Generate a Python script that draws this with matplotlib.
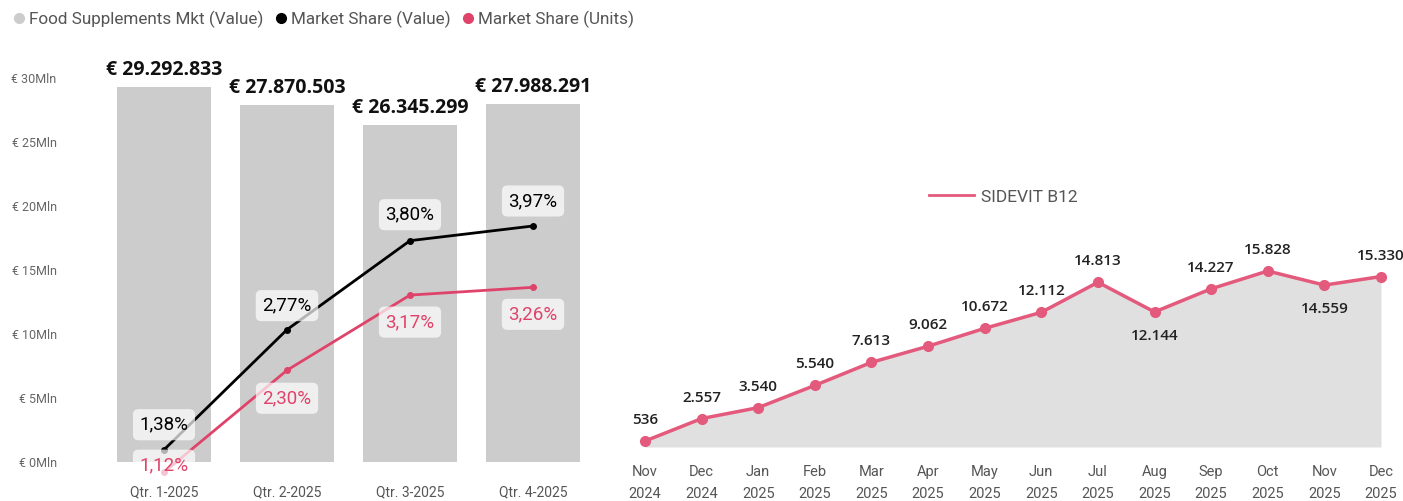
import matplotlib.pyplot as plt
from matplotlib.lines import Line2D

plt.rcParams['font.family'] = ['Roboto', 'DejaVu Sans']

# left chart data
quarters = ['Qtr. 1-2025', 'Qtr. 2-2025', 'Qtr. 3-2025', 'Qtr. 4-2025']
mkt_value = [29292833, 27870503, 26345299, 27988291]
share_value = [1.38, 2.77, 3.80, 3.97]
share_units = [1.12, 2.30, 3.17, 3.26]

# right chart data
months = ['Nov\n2024', 'Dec\n2024', 'Jan\n2025', 'Feb\n2025', 'Mar\n2025', 'Apr\n2025', 'May\n2025',
          'Jun\n2025', 'Jul\n2025', 'Aug\n2025', 'Sep\n2025', 'Oct\n2025', 'Nov\n2025', 'Dec\n2025']
sidevit = [536, 2557, 3540, 5540, 7613, 9062, 10672, 12112, 14813, 12144, 14227, 15828, 14559, 15330]

BAR = '#cccccc'
PINK = '#e0436a'
PINK2 = '#e35a7c'

W, H = 1403, 501
fig = plt.figure(figsize=(W / 100, H / 100), dpi=100)

def fx(px):
    return px / W

def fy(py):
    return 1 - py / H

# ---- left: bars + market share lines
ax = fig.add_axes([fx(102.5), fy(462), fx(492), (462 - 78) / H])
x = range(len(quarters))
ax.bar(x, mkt_value, width=0.77, color=BAR, zorder=1)
ax.set_xlim(-0.5, 3.5)
ax.set_ylim(0, 30e6)
ax.set_yticks([0, 5e6, 10e6, 15e6, 20e6, 25e6, 30e6])
ax.set_yticklabels(['€ 0Mln', '€ 5Mln', '€ 10Mln', '€ 15Mln', '€ 20Mln', '€ 25Mln', '€ 30Mln'])
ax.set_xticks(list(x))
ax.set_xticklabels(quarters)
ax.tick_params(axis='y', length=0, pad=33, labelsize=9, labelcolor='#666666')
ax.tick_params(axis='x', length=0, pad=17, labelsize=10, labelcolor='#555555')
for s in ax.spines.values():
    s.set_visible(False)
for i, v in enumerate(mkt_value):
    lab = '€ ' + f'{v:,}'.replace(',', '.')
    ax.annotate(lab, (i, v), xytext=(0, 5), textcoords='offset points',
                ha='center', va='bottom', fontsize=14, fontweight='bold',
                family=['Open Sans', 'DejaVu Sans'], color='#111111')

ax2 = ax.twinx()
ax2.set_ylim(1.238, 5.683)
ax2.axis('off')
ax2.plot(x, share_value, color='black', lw=2, marker='o', ms=4, clip_on=False, zorder=3)
ax2.plot(x, share_units, color=PINK, lw=2, marker='o', ms=4, clip_on=False, zorder=3)
box = dict(boxstyle='round,pad=0.35,rounding_size=0.3', fc='white', ec='none', alpha=0.7)
val_off = [-25, -24, -26, -25]
unit_off = [-7, 28, 27, 27]
for i in x:
    ax2.annotate(f'{share_value[i]:.2f}%'.replace('.', ','), (i, share_value[i]),
                 xytext=(0, -val_off[i] * 0.72), textcoords='offset points',
                 ha='center', va='center', fontsize=13.5, color='black', bbox=box,
                 zorder=4, annotation_clip=False)
    ax2.annotate(f'{share_units[i]:.2f}%'.replace('.', ','), (i, share_units[i]),
                 xytext=(0, -unit_off[i] * 0.72), textcoords='offset points',
                 ha='center', va='center', fontsize=13.5, color=PINK, bbox=box,
                 zorder=4, annotation_clip=False)

handles = [Line2D([], [], ls='none', marker='o', ms=7, color=c) for c in [BAR, 'black', PINK]]
fig.legend(handles, ['Food Supplements Mkt (Value)', 'Market Share (Value)', 'Market Share (Units)'],
           loc='upper left', bbox_to_anchor=(fx(2), fy(4)), ncol=3, frameon=False,
           handletextpad=0.0, columnspacing=0.4, handlelength=1.2, fontsize=12.3,
           labelcolor='#555555', borderaxespad=0)

# ---- right: area line
axr = fig.add_axes([fx(630), fy(447), fx(765), 222.4 / H])
xm = range(len(months))
axr.fill_between(xm, sidevit, color='#e0e0e0', lw=0, zorder=1)
axr.plot(xm, sidevit, color=PINK2, lw=2.5, marker='o', ms=7, zorder=3, clip_on=False)
axr.set_xlim(-15 / 56.6, 13 + 14 / 56.6)
axr.set_ylim(0, 20000)
axr.set_yticks([])
axr.set_xticks(list(xm))
axr.set_xticklabels(months, linespacing=1.7)
axr.tick_params(axis='x', length=0, pad=13, labelsize=10.5, labelcolor='#555555')
for s in axr.spines.values():
    s.set_visible(False)
below = {9, 12}
for i, v in enumerate(sidevit):
    off = -24 if i in below else 21
    axr.annotate(f'{v:,}'.replace(',', '.'), (i, v), xytext=(0, off * 0.72),
                 textcoords='offset points', ha='center', va='center',
                 fontsize=11, fontweight='semibold', family=['Open Sans', 'DejaVu Sans'],
                 color='#222222', annotation_clip=False)

fig.legend([Line2D([], [], color=PINK2, lw=2)], ['SIDEVIT B12'], loc='center left',
           bbox_to_anchor=(fx(922), fy(197)), frameon=False, fontsize=12.5,
           handlelength=2.6, handletextpad=0.4, labelcolor='#555555', borderaxespad=0)

fig.savefig('out.png', dpi=100)
